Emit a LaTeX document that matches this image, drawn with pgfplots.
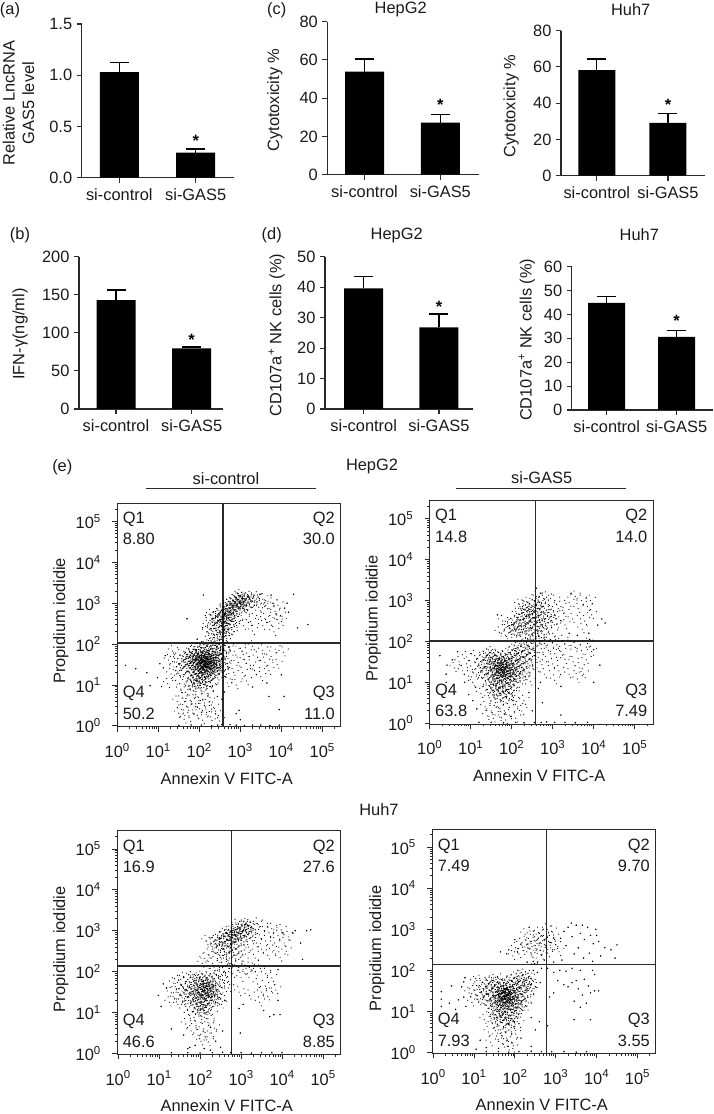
\documentclass[border=0pt]{standalone}
\usepackage{pgfplots}
\pgfplotsset{compat=1.18}
\usepackage{fontspec}
\setmainfont{Liberation Sans}
\definecolor{ax}{HTML}{2A2A2A}
\definecolor{tx}{HTML}{1A1A1A}
\newcommand\F{\fontsize{16.4}{19.5}\selectfont}
\newcommand\lab[3]{\node[font=\F,text=tx,inner sep=0pt] at (#1pt,{(1114-#2)*1pt}) {#3};}
\tikzset{astk/.style={inner sep=0pt,font=\F\bfseries,yshift=-4pt},qt/.style={font=\F,text=tx,inner sep=0pt}}
\newcommand\spk[2]{\pgfpathcircle{\pgfpoint{#1pt}{#2pt}}{0.6pt}}
\pgfdeclareplotmark{clumpL}{\spk{0}{0}\spk{-6.1}{1.3}\spk{-3.2}{4.6}\spk{-2.4}{-1.7}\spk{0.6}{6.2}\spk{1.1}{0.4}\spk{3.7}{-3.8}\spk{5.8}{2.2}\spk{-4.5}{-5.2}\spk{0.9}{-6.4}\spk{6.4}{-2.9}\spk{-0.9}{2.9}\spk{3.1}{3.4}\pgfusepathqfill}
\pgfdeclareplotmark{clumpM}{\spk{0}{0}\spk{-4.3}{2.1}\spk{1.7}{-3.6}\spk{4.9}{3.3}\spk{-1.2}{5.4}\pgfusepathqfill}
\pgfplotsset{
 yl/.style 2 args={every axis y label/.style={at={(axis description cs:#1,#2)},rotate=90,anchor=center,align=center,font=\F,text=tx}},
 barax/.style={scale only axis,anchor=south west,clip=false,ymin=0,
  axis x line*=bottom,axis y line*=left,axis line style={line width=1.1pt,color=ax},
  tick align=outside,major tick length=5pt,tick style={line width=1.1pt,color=ax},
  xtick={0,1},xticklabels={si-control,si-GAS5},
  tick label style={font=\F,text=tx},xticklabel style={yshift=-2pt},yticklabel style={xshift=-1pt}},
 bars/.style={ybar,bar shift=0pt,fill=black,draw=none,bar width=#1,
  error bars/.cd,y dir=plus,y explicit,error bar style={line width=1.1pt,color=black},
  error mark options={rotate=90,mark size=9.5pt,line width=1.1pt,color=black}},
 flow/.style={scale only axis,anchor=south west,clip=false,width=223.4pt,height=223.4pt,
  xmin=0,xmax=5.449,ymin=-0.02,ymax=5.445,axis line style={line width=0.9pt,color=ax},
  tick align=outside,xtick pos=bottom,ytick pos=left,major tick length=5pt,minor tick length=2.5pt,
  tick style={line width=0.8pt,color=ax},
  xtick={0,1,2,3,4,5},ytick={0,1,2,3,4,5},
  xticklabels={10\textsuperscript{0},10\textsuperscript{1},10\textsuperscript{2},10\textsuperscript{3},10\textsuperscript{4},10\textsuperscript{5}},
  yticklabels={10\textsuperscript{0},10\textsuperscript{1},10\textsuperscript{2},10\textsuperscript{3},10\textsuperscript{4},10\textsuperscript{5}},
  minor xtick={0.301,0.477,0.602,0.699,0.778,0.845,0.903,0.954,1.301,1.477,1.602,1.699,1.778,1.845,1.903,1.954,2.301,2.477,2.602,2.699,2.778,2.845,2.903,2.954,3.301,3.477,3.602,3.699,3.778,3.845,3.903,3.954,4.301,4.477,4.602,4.699,4.778,4.845,4.903,4.954,5.301},
  minor ytick={0.301,0.477,0.602,0.699,0.778,0.845,0.903,0.954,1.301,1.477,1.602,1.699,1.778,1.845,1.903,1.954,2.301,2.477,2.602,2.699,2.778,2.845,2.903,2.954,3.301,3.477,3.602,3.699,3.778,3.845,3.903,3.954,4.301,4.477,4.602,4.699,4.778,4.845,4.903,4.954,5.301},
  tick label style={font=\F,text=tx},xticklabel style={yshift=-8pt},yticklabel style={xshift=-8pt},
  xlabel={Annexin V FITC-A},ylabel={Propidium iodidie},
  every axis x label/.style={at={(axis description cs:0.49,0)},anchor=center,yshift=-51.6pt,font=\F,text=tx},
  every axis y label/.style={at={(axis description cs:-0.253,0.474)},rotate=90,anchor=center,font=\F,text=tx}},
 dots/.style={only marks,mark=*,mark size=0.5pt,black,mark options={draw=none,fill=black}},
 dotsL/.style={dots,mark=clumpL},
 dotsM/.style={dots,mark=clumpM},
 ql/.style={line width=1.5pt,ax,no marks}
}
\newcommand\Q[4]{%
 \node[qt,anchor=west] at ([xshift=5.3pt,yshift=-16pt]axis description cs:0,1) {Q1};
 \node[qt,anchor=west] at ([xshift=5.3pt,yshift=-36pt]axis description cs:0,1) {#1};
 \node[qt,anchor=east] at ([xshift=-5.7pt,yshift=-16pt]axis description cs:1,1) {Q2};
 \node[qt,anchor=east] at ([xshift=-5.7pt,yshift=-36pt]axis description cs:1,1) {#2};
 \node[qt,anchor=west] at ([xshift=5.3pt,yshift=33pt]axis description cs:0,0) {Q4};
 \node[qt,anchor=west] at ([xshift=5.3pt,yshift=12.7pt]axis description cs:0,0) {#3};
 \node[qt,anchor=east] at ([xshift=-5.7pt,yshift=33pt]axis description cs:1,0) {Q3};
 \node[qt,anchor=east] at ([xshift=-5.7pt,yshift=12.7pt]axis description cs:1,0) {#4};
}
\begin{document}
\begin{tikzpicture}
\path[use as bounding box] (0,0) rectangle (713pt,1114pt);
% (a)
\begin{axis}[barax,at={(81.7pt,936.3pt)},width=152.3pt,height=153.7pt,xmin=-0.492,xmax=1.501,ymax=1.5,
 ytick={0,0.5,1,1.5},yticklabels={0.0,0.5,1.0,1.5},ylabel={Relative LncRNA\\GAS5 level},yl={-0.415}{0.486}]
\addplot[bars=39pt] coordinates {(0,1.03) +- (0,0.092) (1,0.244) +- (0,0.036)};
\node[astk] at (axis cs:1,0.397) {*};
\end{axis}
% (b)
\begin{axis}[barax,at={(79pt,705pt)},width=143.7pt,height=152.3pt,xmin=-0.489,xmax=1.41,ymax=200,
 ytick={0,50,100,150,200},yticklabels={0,50,100,150,200},ylabel={IFN-γ(ng/ml)},yl={-0.41}{0.492}]
\addplot[bars=39pt] coordinates {(0,143.1) +- (0,13.1) (1,79.6) +- (0,1.8)};
\node[astk] at (axis cs:1,96.3) {*};
\end{axis}
% (c) HepG2
\begin{axis}[barax,at={(327.3pt,939.3pt)},width=151.7pt,height=153pt,xmin=-0.491,xmax=1.511,ymax=80,
 ytick={0,20,40,60,80},yticklabels={0,20,40,60,80},ylabel={Cytotoxicity \%},yl={-0.345}{0.488}]
\addplot[bars=39pt] coordinates {(0,53.9) +- (0,6.6) (1,27.2) +- (0,4.3)};
\node[astk] at (axis cs:1,38.5) {*};
\end{axis}
% (c) Huh7
\begin{axis}[barax,at={(561pt,938.3pt)},width=144pt,height=145pt,xmin=-0.503,xmax=1.52,ymax=80,
 ytick={0,20,40,60,80},yticklabels={0,20,40,60,80},ylabel={Cytotoxicity \%},yl={-0.347}{0.481}]
\addplot[bars=37pt] coordinates {(0,58.3) +- (0,6.1) (1,29.2) +- (0,5)};
\node[astk] at (axis cs:1,41.4) {*};
\end{axis}
% (d) HepG2
\begin{axis}[barax,at={(325pt,705pt)},width=147.7pt,height=152.3pt,xmin=-0.514,xmax=1.448,ymax=50,
 ytick={0,10,20,30,40,50},yticklabels={0,10,20,30,40,50},ylabel={CD107a\textsuperscript{+} NK cells (\%)},yl={-0.327}{0.486}]
\addplot[bars=39pt] coordinates {(0,39.6) +- (0,3.8) (1,26.8) +- (0,4.4)};
\node[astk] at (axis cs:1,34.8) {*};
\end{axis}
% (d) Huh7
\begin{axis}[barax,at={(571.7pt,704pt)},width=141.3pt,height=143.3pt,xmin=-0.5,xmax=1.519,ymax=60,
 ytick={0,10,20,30,40,50,60},yticklabels={0,10,20,30,40,50,60},ylabel={CD107a\textsuperscript{+} NK cells (\%)},yl={-0.318}{0.49}]
\addplot[bars=37pt] coordinates {(0,44.9) +- (0,2.8) (1,30.6) +- (0,2.7)};
\node[astk] at (axis cs:1,38.8) {*};
\end{axis}
% (e) HepG2 si-control
\begin{axis}[flow,at={(117.3pt,387.3pt)}]
\addplot[dotsL] coordinates {
(2.14,1.53)(2.05,1.41)(2.21,1.62)(1.98,1.55)(2.27,1.47)(2.11,1.72)(1.92,1.38)(2.32,1.66)(2.03,1.29)(2.18,1.35)
(1.87,1.61)(2.36,1.52)(2.08,1.83)(1.95,1.77)(2.24,1.25)(2.41,1.71)(1.81,1.47)(2.13,1.18)(2.29,1.88)(1.99,1.15)
(2.44,1.41)(1.76,1.58)(2.17,1.95)(2.07,1.62)(2.2,1.49)(2.01,1.49)(1.9,1.27)(2.34,1.33)(1.84,1.71)(2.12,1.44)
(2.26,1.74)(2.04,1.91)(2.16,1.06)(1.94,1.08)(2.38,1.82)(1.72,1.33)(2.09,1.56)(2.22,1.56)(2.15,1.67)(1.97,1.66)
(2.48,1.58)(1.68,1.49)(2.3,1.12)(2.02,1.03)(2.51,1.77)(1.79,1.22)(2.1,1.37)(2.19,1.79)(1.89,1.86)(2.25,1.39)
(1.63,1.62)(2.42,1.94)(2.06,1.24)(1.86,1.12)(2.55,1.47)(2.33,1.59)(2.14,1.31)(2.0,1.71)(1.93,1.5)(2.23,1.68)
(1.59,1.41)(2.46,1.28)(2.11,1.51)(2.06,1.57)(2.17,1.43)(2.31,1.97)(1.77,1.79)(2.57,1.88)(1.83,1.02)(2.28,1.54)
(1.96,1.44)(2.13,1.6)(2.09,1.46)(2.2,1.58)(2.03,1.6)(1.91,1.66)(2.35,1.42)(1.74,1.68)(2.4,1.6)(2.18,1.5)
(2.62,2.72)(2.55,2.64)(2.68,2.8)(2.75,2.88)(2.6,2.55)(2.8,2.93)(2.5,2.76)(2.72,2.65)(2.85,3.0)(2.66,2.95)
(2.47,2.58)(2.78,2.75)(2.9,2.96)(2.58,2.84)(2.92,3.08)(2.7,2.5)(2.42,2.68)(2.98,3.02)(3.03,3.12)(2.83,2.83)
(2.52,2.45)(2.95,2.88)(3.07,3.04)(2.64,2.68)(2.74,2.98)(2.38,2.5)(3.12,3.1)(2.88,3.1)(2.56,2.36)(3.0,2.92)
(2.35,2.38)(2.77,2.4)(2.65,2.3)(2.48,2.28)(3.16,3.0)(3.2,3.14)(2.82,2.62)(2.32,2.62)(2.95,3.18)(3.25,3.05)
};
\addplot[dotsM] coordinates {
(2.52,1.95)(2.47,2.0)(2.39,2.03)(2.54,1.62)(2.6,1.7)(2.62,1.85)(2.66,1.52)(2.71,1.93)(2.58,1.3)
(1.55,1.22)(1.5,1.51)(1.48,1.32)(1.42,1.11)(1.38,1.44)(1.31,1.27)(1.25,1.61)(1.4,1.65)(1.23,1.03)(1.53,1.73)(1.35,1.83)
(2.02,0.92)(1.87,0.85)(2.15,0.88)(1.74,0.97)(2.22,0.78)(1.95,0.71)(2.08,0.65)(1.66,0.82)(2.3,0.93)(1.78,0.62)
(1.91,0.54)(2.12,0.5)(1.6,0.68)(2.25,0.6)(2.01,0.42)(1.83,0.39)(1.7,0.47)(2.18,0.33)(1.57,0.4)(2.35,0.45)
(1.95,0.26)(2.27,0.22)(2.08,0.14)(1.75,0.2)(1.63,0.16)(2.4,0.29)(1.5,0.31)(2.5,0.12)(1.46,0.6)(1.55,0.9)
(2.44,2.2)(2.62,2.18)(2.3,2.25)(2.72,2.22)(2.88,2.5)(3.3,3.12)(3.1,2.85)(2.54,2.12)(2.38,2.1)(2.25,2.14)
(3.35,3.03)(3.42,3.15)(3.18,2.82)(2.28,2.72)(2.2,2.45)(3.5,2.98)(3.02,2.7)(2.18,2.3)(3.45,2.9)(3.55,3.1)
(3.62,2.95)(3.7,2.87)(3.78,3.0)(3.85,2.8)(3.92,2.95)(3.98,2.7)(3.6,2.62)(3.4,2.7)(3.72,2.55)(3.55,2.45)(3.9,2.6)(3.25,2.55)(3.08,2.45)(3.3,2.32)(3.82,2.3)(4.0,2.55)
(2.72,1.92)(2.85,1.82)(3.0,1.9)(3.15,1.78)(3.3,1.95)(3.1,1.62)(2.95,1.55)(3.42,1.68)(3.55,1.85)(3.25,1.48)
(3.6,1.55)(3.75,1.7)(2.8,1.4)(3.05,1.3)(3.35,1.35)(3.5,1.2)(3.7,1.35)(3.85,1.88)(4.05,1.8)(3.9,1.5)
(2.75,1.15)(3.15,1.1)(2.9,1.0)(2.7,1.65)(2.62,1.35)(2.68,1.05)
};
\addplot[dots] coordinates {
(0.8,0.98)(0.45,1.4)(0.72,1.3)(1.04,1.52)(0.98,1.18)(1.12,1.42)(1.17,1.72)(1.08,0.96)(0.2,1.48)
(2.61,0.83)(2.55,0.65)(2.44,0.72)(2.9,0.3)(3.0,0.15)(2.97,0.38)(3.7,0.72)(4.07,0.72)(3.95,0.4)
(4.08,2.88)(4.18,2.78)(4.14,3.0)(3.75,3.2)(4.4,2.4)(4.65,2.48)(4.3,3.22)(2.1,3.2)(1.7,2.62)(1.95,2.12)(2.08,2.4)(2.15,2.7)(3.48,3.22)
(3.65,1.05)(4.0,1.25)(3.3,0.95)
(1.5,0.01)(1.8,0.02)(2.05,0.02)(2.3,0.01)(2.45,0.02)(2.75,0.03)(2.9,0.02)(3.1,0.01)(3.3,0.02)(3.5,0.02)(3.72,0.01)(3.95,0.02)
};
\addplot[ql] coordinates {(2.578,-0.02)(2.578,5.445)};
\addplot[ql] coordinates {(0,2.022)(5.449,2.022)};
\Q{8.80}{30.0}{50.2}{11.0}
\end{axis}
% (e) HepG2 si-GAS5
\begin{axis}[flow,at={(429.7pt,390pt)},every axis y label/.style={at={(axis description cs:-0.252,0.474)},rotate=90,anchor=center,font=\F,text=tx}]
\addplot[dotsL] coordinates {
(1.79,1.29)(1.68,1.21)(1.88,1.37)(1.6,1.4)(1.95,1.14)(1.72,1.05)(1.84,1.52)(1.55,1.18)(2.02,1.46)(1.66,1.58)
(1.9,0.98)(1.5,1.32)(2.1,1.3)(1.78,0.9)(1.99,1.62)(1.45,1.5)(2.15,1.55)(1.62,0.96)(1.82,1.18)(1.74,1.42)
(1.4,1.22)(2.06,1.18)(1.93,1.72)(1.58,1.66)(2.2,1.42)(1.7,1.3)(1.86,0.82)(1.35,1.38)(2.12,1.7)(1.64,0.82)
(1.76,1.62)(1.52,0.95)(2.25,1.62)(1.96,1.3)(1.3,1.55)(1.81,1.08)(2.03,0.95)(1.46,1.72)(1.92,0.75)(2.18,1.2)
(1.56,1.5)(1.7,0.72)(2.3,1.78)(1.86,1.44)(1.42,1.08)(2.08,1.82)(1.65,1.25)(1.76,1.16)(1.98,1.52)(1.25,1.28)
(2.35,1.5)(1.54,0.8)(1.84,0.65)(2.22,1.88)(1.38,1.65)(1.72,1.52)(2.05,1.08)(1.6,1.08)(1.94,1.22)(2.38,1.9)
(1.8,1.36)(1.69,1.46)(1.87,1.26)(1.77,1.22)(1.83,1.3)(1.73,1.35)(1.91,1.42)(1.63,1.33)(2.28,1.3)(2.42,1.72)
(2.44,2.5)(2.35,2.42)(2.52,2.58)(2.28,2.55)(2.6,2.45)(2.4,2.65)(2.2,2.38)(2.66,2.62)(2.48,2.32)(2.15,2.52)
(2.55,2.72)(2.32,2.25)(2.72,2.4)(2.1,2.3)(2.62,2.8)(2.42,2.78)(2.25,2.7)(2.8,2.55)(2.05,2.45)(2.5,2.2)
(2.7,2.25)(2.88,2.7)(2.18,2.15)(2.35,2.82)(2.58,2.9)(1.98,2.25)(2.75,2.85)(2.95,2.5)(2.65,2.12)(1.92,2.38)
};
\addplot[dotsM] coordinates {
(1.2,1.45)(1.48,0.88)(2.0,0.72)(2.45,1.58)(1.32,1.12)(2.48,1.95)(2.14,0.88)(1.57,0.68)(2.33,1.15)(1.15,1.2)
(2.52,1.82)(2.5,1.4)(2.55,1.65)(2.4,1.25)(2.55,2.0)(2.3,1.05)(2.45,1.02)
(1.0,1.4)(0.9,1.62)(0.8,1.28)(1.1,1.65)(0.95,1.15)(0.72,1.5)(1.05,1.0)(0.6,1.35)
(1.75,0.55)(1.6,0.5)(1.9,0.48)(1.45,0.62)(2.05,0.55)(1.68,0.38)(1.82,0.3)(2.15,0.4)(1.5,0.3)(1.95,0.2)
(1.35,0.4)(2.25,0.3)(1.7,0.15)(1.55,0.12)(1.25,0.72)(2.1,0.12)(2.3,0.55)(1.4,0.18)(1.85,0.08)
(2.45,2.12)(2.85,2.3)(2.12,2.68)(2.68,2.95)(3.02,2.72)(1.85,2.15)(2.28,2.88)(2.92,2.88)(2.78,3.05)(3.1,2.42)
(1.78,2.5)(2.55,3.0)(2.38,2.95)(3.0,2.2)(2.6,3.1)(1.7,2.22)(3.15,2.6)(2.18,2.9)(3.2,2.85)(2.85,3.08)
(3.05,3.0)(3.3,2.4)(3.28,2.7)(3.4,2.95)(3.48,2.55)(3.55,3.1)(3.62,2.8)(3.7,3.0)(3.78,2.5)(3.85,2.85)(3.92,3.0)(3.95,2.65)(3.72,2.3)
(2.68,2.02)(2.8,1.95)(2.95,2.05)(3.1,1.92)(3.25,2.02)(3.4,1.9)(2.72,1.82)(2.9,1.78)(3.05,1.7)(3.2,1.75)
(3.55,1.85)(3.7,1.78)(3.85,1.95)(2.65,1.6)(2.85,1.5)(3.0,1.45)(3.3,1.55)(3.5,1.5)(3.65,1.35)(3.82,1.55)
(3.95,1.75)(2.62,1.35)(2.8,1.2)(3.15,1.28)(3.4,1.2)(3.6,1.08)(3.05,1.05)(3.75,1.2)
};
\addplot[dots] coordinates {
(0.55,1.55)(0.42,1.42)(0.68,1.75)(0.4,1.2)(1.12,0.88)(0.25,1.65)(0.4,1.0)(0.85,1.0)(1.15,0.35)
(1.05,0.55)(2.42,0.75)(0.95,0.7)(2.5,0.3)(2.65,0.85)(2.75,0.5)(3.2,0.2)(3.2,0.9)(1.3,0.9)
(1.65,2.65)(2.7,3.18)(3.45,3.18)(3.88,2.2)(4.1,2.4)(4.2,2.55)(4.28,2.45)(3.6,2.15)(3.4,2.2)(3.9,2.05)(2.6,3.3)
(4.0,1.8)(4.0,1.0)(2.7,1.0)(4.15,1.42)
(1.5,0.02)(1.8,0.01)(2.1,0.02)(2.3,0.01)(2.55,0.02)(2.72,0.02)(2.85,0.03)(3.05,0.02)(3.3,0.02)(3.55,0.01)(3.85,0.02)(1.2,0.02)
};
\addplot[ql] coordinates {(2.585,-0.02)(2.585,5.445)};
\addplot[ql] coordinates {(0,2.015)(5.449,2.015)};
\Q{14.8}{14.0}{63.8}{7.49}
\end{axis}
% (e) Huh7 si-control
\begin{axis}[flow,at={(117.3pt,59.7pt)},xmin=-0.02,xmax=5.43,ymin=-0.02,ymax=5.44,every axis y label/.style={at={(axis description cs:-0.253,0.47)},rotate=90,anchor=center,font=\F,text=tx}]
\addplot[dotsL] coordinates {
(2.08,1.5)(2.0,1.42)(2.15,1.58)(1.95,1.6)(2.2,1.38)(2.05,1.7)(1.88,1.35)(2.25,1.52)(1.98,1.25)(2.12,1.3)
(1.82,1.52)(2.3,1.62)(2.02,1.8)(1.9,1.7)(2.18,1.22)(1.76,1.42)(2.35,1.42)(2.1,1.12)(1.92,1.15)(2.22,1.74)
(2.05,1.52)(2.12,1.46)(2.16,1.64)(2.02,1.36)(1.85,1.78)(1.72,1.6)(2.28,1.3)(2.08,1.04)(2.4,1.55)(1.98,1.86)
(1.68,1.38)(1.8,1.18)(2.32,1.82)(2.14,1.82)(1.93,1.48)(2.24,1.6)(2.45,1.36)(1.62,1.55)(2.0,1.08)(1.75,1.85)
(2.81,2.89)(2.72,2.82)(2.9,2.95)(2.65,2.78)(3.0,2.98)(2.78,3.0)(2.58,2.86)(3.1,3.02)(2.85,2.72)(2.5,2.72)
(2.95,3.08)(3.05,2.88)(2.7,2.62)(3.15,3.12)(2.45,2.8)(2.62,2.95)(3.2,2.98)(2.92,2.6)(2.75,2.5)(3.08,3.15)
(2.85,2.88)(2.76,2.9)(2.98,2.92)(2.4,2.62)(2.55,2.55)
};
\addplot[dotsM] coordinates {
(2.09,1.62)(2.17,1.5)(2.06,1.44)(2.11,1.56)(1.96,1.52)(2.2,1.68)(1.58,1.28)(2.38,1.25)(1.55,1.68)(2.48,1.7)
(1.52,1.45)(1.65,1.15)(1.46,1.2)(1.42,1.58)(1.38,1.35)(1.48,1.78)(1.3,1.48)(1.25,1.25)(1.35,1.72)(1.6,1.85)
(2.5,1.88)(2.45,1.9)(2.55,1.8)(2.25,1.95)(2.6,1.6)(2.52,1.2)(2.35,2.02)(2.58,2.0)
(2.0,0.92)(1.85,0.88)(2.15,0.85)(1.72,0.95)(2.22,0.72)(1.9,0.68)(2.08,0.6)(1.78,0.55)(2.3,0.95)(1.95,0.45)
(2.12,0.42)(2.28,0.5)(1.65,0.72)(2.02,0.3)(2.35,0.62)(2.2,0.28)
(3.25,3.1)(2.88,3.15)(2.35,2.75)(3.12,2.75)(3.28,2.85)(2.6,2.42)(2.82,2.4)(3.0,2.5)
(2.3,2.55)(2.48,2.4)(3.35,3.02)(3.18,2.6)(2.42,2.32)(2.68,2.28)(2.25,2.7)(3.4,3.18)(2.98,2.35)(2.2,2.42)
(3.3,2.42)(2.52,2.22)(2.15,2.75)(3.38,2.7)(2.75,2.2)(2.1,2.32)(3.05,2.25)(2.3,2.2)(2.05,2.2)
(3.45,2.9)(3.52,3.1)(3.6,2.75)(3.68,2.95)(3.75,3.05)(3.82,2.7)(3.9,2.88)(3.98,3.02)(3.5,2.55)(3.65,2.4)
(3.8,2.52)(3.95,2.35)(4.05,2.7)(4.15,2.85)(4.1,2.5)
(2.55,2.1)(2.72,2.08)(2.9,2.12)(3.05,2.05)(3.2,2.1)(3.35,2.0)(3.3,2.08)(3.15,1.95)(2.8,1.95)(2.65,1.85)
(3.0,1.85)(3.4,1.7)(3.6,1.95)(3.75,1.85)(3.5,1.5)(3.7,1.6)(2.7,1.6)(2.95,1.5)(3.2,1.42)
(3.45,1.25)(3.65,1.4)(3.85,1.55)
};
\addplot[dots] coordinates {
(1.18,1.6)(1.1,1.7)(1.05,1.15)(0.98,1.42)
(1.88,0.2)(1.7,0.12)(2.38,0.3)(2.5,0.15)(2.1,0.12)(1.6,0.45)(2.55,0.55)(1.3,0.6)(1.75,0.15)(2.25,0.08)
(4.25,2.95)(4.32,3.0)(4.45,2.7)(4.6,3.0)(4.7,3.02)(4.5,2.3)(3.42,2.28)(4.0,2.95)
(3.9,2.05)(2.6,1.3)(3.05,1.2)(3.55,1.05)(3.8,0.95)(3.95,0.95)(3.7,0.9)(3.9,1.3)(2.95,1.1)(2.98,0.5)
(1.3,0.02)(1.7,0.02)(2.0,0.01)(2.3,0.02)(2.55,0.03)(2.75,0.02)(3.0,0.02)(3.25,0.01)(3.5,0.02)(3.75,0.02)(4.0,0.02)
};
\addplot[ql] coordinates {(2.763,-0.02)(2.763,5.44)};
\addplot[ql] coordinates {(-0.02,2.137)(5.43,2.137)};
\Q{16.9}{27.6}{46.6}{8.85}
\end{axis}
% (e) Huh7 si-GAS5
\begin{axis}[flow,at={(432.3pt,60.7pt)},xmin=-0.02,xmax=5.445,ymin=-0.02,ymax=5.42,every axis y label/.style={at={(axis description cs:-0.248,0.47)},rotate=90,anchor=center,font=\F,text=tx}]
\addplot[dotsL] coordinates {
(1.76,1.36)(1.68,1.28)(1.85,1.44)(1.6,1.42)(1.92,1.2)(1.72,1.15)(1.8,1.58)(1.55,1.25)(1.98,1.5)(1.66,1.62)
(1.88,1.05)(1.5,1.38)(2.05,1.35)(1.75,0.98)(1.95,1.65)(1.44,1.55)(2.1,1.58)(1.62,1.05)(1.82,1.25)(1.74,1.48)
(1.38,1.3)(2.02,1.18)(1.9,1.75)(1.56,1.7)(2.15,1.42)(1.7,1.36)(1.84,0.9)(1.32,1.42)(2.08,1.72)(1.64,0.88)
(1.78,1.68)(1.52,1.05)(2.2,1.62)(1.94,1.35)(1.28,1.6)(1.8,1.12)(2.0,1.02)(1.45,1.75)(1.9,0.82)(2.14,1.2)
(1.58,1.52)(1.7,0.78)(2.25,1.75)(1.86,1.46)(1.42,1.12)(2.05,1.85)(1.65,1.3)(1.76,1.22)(1.96,1.55)(1.22,1.35)
(2.3,1.5)(1.55,0.85)(1.82,0.7)(2.18,1.88)(1.35,1.68)(1.72,1.55)(2.03,1.1)(1.6,1.15)(1.93,1.28)(2.34,1.85)
(1.78,1.4)(1.7,1.45)(1.84,1.34)(1.74,1.3)(1.8,1.38)(1.73,1.38)(1.88,1.42)(1.62,1.36)(2.24,1.3)(2.38,1.65)
};
\addplot[dotsM] coordinates {
(1.18,1.48)(1.46,0.92)(1.96,0.78)(2.42,1.5)(1.3,1.15)(2.1,0.95)(1.52,0.72)(2.28,1.12)(1.12,1.25)(1.68,1.78)
(1.1,1.62)(1.05,1.38)(1.0,1.5)(1.15,1.75)(0.95,1.22)(1.02,1.72)(0.88,1.45)
(1.72,0.6)(1.6,0.55)(1.88,0.55)(1.45,0.7)(1.98,0.62)(1.68,0.42)(1.8,0.35)(2.02,0.45)(1.55,0.4)(1.92,0.25)
(1.7,0.22)(1.82,0.15)(1.95,0.1)(1.35,0.5)(1.4,0.25)(1.25,0.8)(2.1,0.7)
(2.6,2.66)(2.5,2.6)(2.68,2.72)(2.42,2.58)(2.75,2.6)(2.55,2.75)(2.35,2.52)(2.82,2.7)(2.62,2.48)(2.28,2.62)
(2.48,2.82)(2.88,2.55)(2.2,2.48)(2.7,2.85)(2.4,2.4)(2.95,2.8)(2.15,2.65)(2.58,2.92)(2.8,2.42)(2.1,2.4)
(3.0,2.62)(2.33,2.78)(2.65,2.36)(2.02,2.55)(2.9,2.95)(2.52,2.3)(1.95,2.35)(3.08,2.45)(2.25,2.88)(2.78,3.0)
};
\addplot[dots] coordinates {
(0.8,1.12)(0.75,1.35)(0.7,1.6)(0.62,1.28)(0.55,1.05)(0.78,1.82)(0.4,1.2)(0.2,1.48)(0.2,1.3)(0.2,1.12)(0.45,1.62)(0.75,1.72)
(2.15,0.35)(1.6,0.1)(1.15,0.3)(1.05,0.08)(2.4,0.85)(2.5,0.55)(2.4,0.15)(1.3,0.12)
(2.6,0.75)(2.8,0.65)(3.45,0.8)(3.85,0.8)(2.85,1.35)(2.95,1.45)
(1.85,2.5)(3.12,2.78)(2.45,2.22)(2.72,2.25)(3.2,2.95)(2.0,2.75)(3.25,2.6)(1.8,2.4)(2.35,3.05)(3.3,3.05)
(3.4,2.82)(3.5,3.1)(3.6,2.9)(3.55,2.55)(3.7,2.75)(3.78,3.05)(3.85,2.85)(3.92,2.65)(3.45,2.4)(3.68,2.3)
(4.0,2.85)(3.82,2.42)(4.05,2.7)(4.1,2.35)(4.35,2.5)(4.45,2.3)(4.5,2.62)(3.9,2.22)(3.65,3.1)(3.38,3.15)
(2.3,2.2)(2.55,2.18)(2.4,2.15)(2.48,2.16)(2.95,2.2)(3.15,2.25)(4.2,2.55)(1.65,2.45)(3.98,3.0)
(2.45,2.0)(2.55,1.95)(2.4,1.8)(2.62,1.7)(2.5,1.6)(2.65,2.05)
(2.8,2.05)(2.95,1.95)(3.1,2.0)(3.25,1.98)(3.4,2.05)(3.6,2.0)(3.9,2.0)(3.95,1.9)(3.05,1.75)(3.2,1.65)
(3.4,1.7)(3.55,1.55)(3.7,1.78)(3.8,1.62)(3.65,1.4)(3.85,1.45)(3.45,1.25)(3.75,1.2)(3.6,1.1)(3.95,1.5)(3.3,1.6)(3.5,1.75)(4.05,1.5)
(1.3,0.02)(1.6,0.02)(1.85,0.01)(2.1,0.02)(2.4,0.03)(2.65,0.02)(2.9,0.02)(3.2,0.02)(3.5,0.01)(3.75,0.02)
};
\addplot[ql] coordinates {(2.773,-0.02)(2.773,5.42)};
\addplot[ql] coordinates {(-0.02,2.137)(5.445,2.137)};
\Q{7.49}{9.70}{7.93}{3.55}
\end{axis}
% panel letters, titles, group lines
\lab{10}{10}{(a)}
\lab{20}{235}{(b)}
\lab{276.7}{10}{(c)}
\lab{271.7}{235}{(d)}
\lab{62.3}{467.3}{(e)}
\lab{400.7}{9.3}{HepG2}
\lab{630.7}{9.5}{Huh7}
\lab{396.7}{235}{HepG2}
\lab{639.3}{235}{Huh7}
\lab{372}{466.5}{HepG2}
\lab{379}{810}{Huh7}
\lab{226}{478.3}{si-control}
\lab{541.7}{478}{si-GAS5}
\draw[line width=0.9pt,ax] (145.7pt,625.3pt) -- (316pt,625.3pt);
\draw[line width=0.9pt,ax] (456pt,626pt) -- (625.7pt,626pt);
\end{tikzpicture}
\end{document}
